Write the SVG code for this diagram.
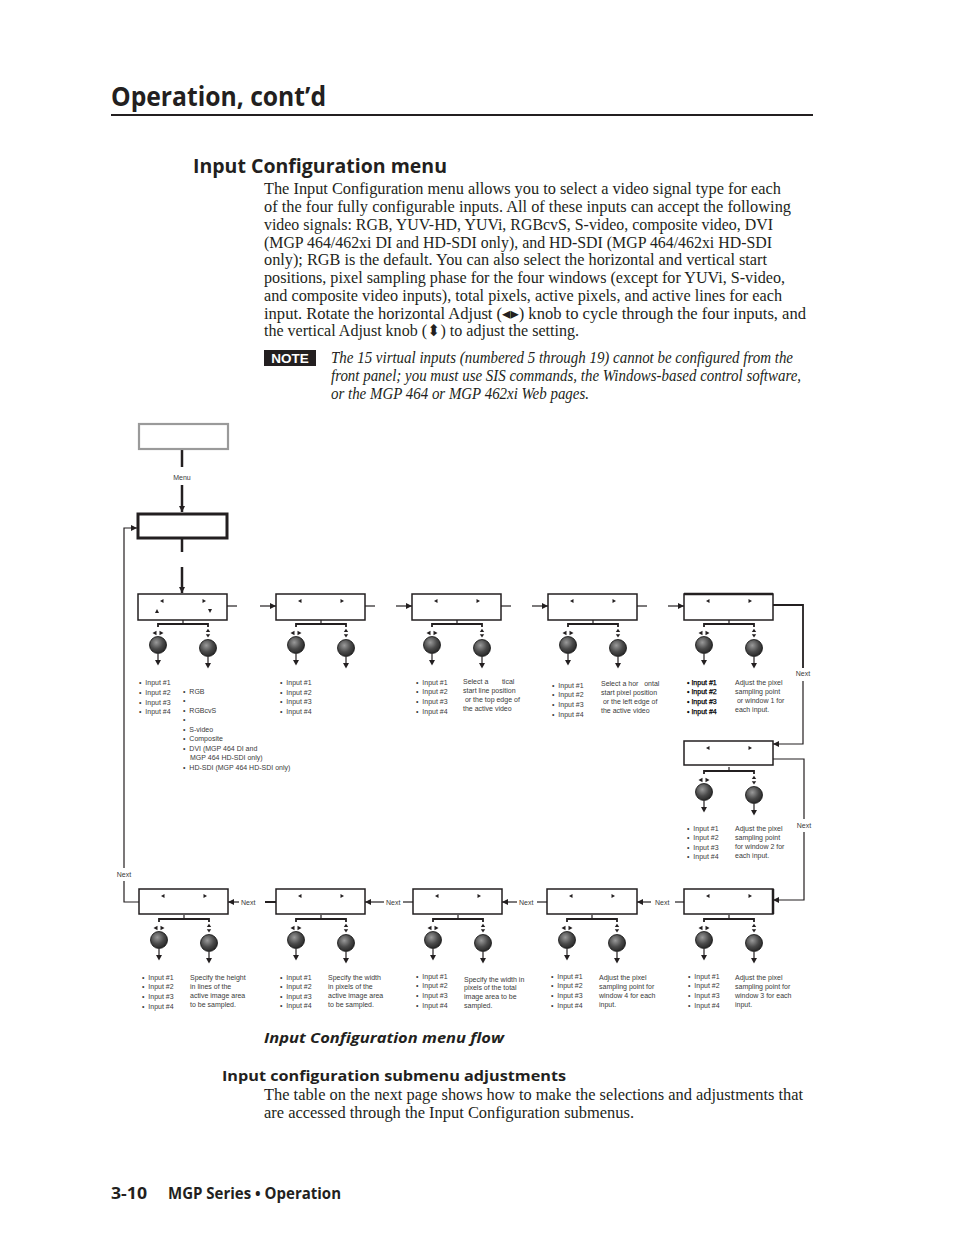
<svg xmlns="http://www.w3.org/2000/svg" xmlns:xlink="http://www.w3.org/1999/xlink" width="954" height="1235" viewBox="0 0 954 1235">
<style>
.hd{font-family:"Open Sans","Liberation Sans",sans-serif;font-weight:bold;fill:#231f20}
.body{font-family:"Liberation Serif","DejaVu Serif",serif;font-size:16px;fill:#231f20}
.note{font-family:"Liberation Serif","DejaVu Serif",serif;font-size:16px;font-style:italic;fill:#231f20}
.t7{font-family:"Liberation Sans",Arial,sans-serif;font-size:7px;fill:#3a3a3a;white-space:pre}
.t7b{font-family:"Liberation Sans",Arial,sans-serif;font-size:7px;fill:#000;stroke:#000;stroke-width:0.25}
.box{fill:#fff;stroke:#231f20;stroke-width:1.5}
.ln{fill:none;stroke:#231f20;stroke-width:1.2}
.tk{fill:none;stroke:#231f20;stroke-width:2.5}
.tri{fill:#231f20;stroke:none}
.knob{fill:url(#kg);stroke:#111;stroke-width:0.8}
</style>
<defs>
<radialGradient id="kg" cx="0.4" cy="0.35" r="0.7">
<stop offset="0" stop-color="#9a9a9a"/>
<stop offset="0.55" stop-color="#4a4a4a"/>
<stop offset="1" stop-color="#222"/>
</radialGradient>
<marker id="ah" viewBox="0 0 10 10" refX="10" refY="5" markerWidth="7" markerHeight="6" markerUnits="userSpaceOnUse" orient="auto">
<path d="M0,0 L10,5 L0,10 z" fill="#231f20"/>
</marker>
<g id="lr">
<polygon class="tri" points="22,7 25.5,5 25.5,9"/>
<polygon class="tri" points="68,7 64.5,5 64.5,9"/>
</g>
<g id="kit">
<line class="ln" x1="45" y1="26" x2="45" y2="30"/>
<polyline class="ln" style="stroke-width:1.8" points="20,33 20,30 70,30 70,33"/>
<polygon class="tri" points="14.5,39 18.5,36.8 18.5,41.2"/>
<polygon class="tri" points="25.5,39 21.5,36.8 21.5,41.2"/>
<polygon class="tri" points="70,34.8 67.8,38 72.2,38"/>
<polygon class="tri" points="70,43.5 67.8,40.3 72.2,40.3"/>
<circle class="knob" cx="20" cy="51" r="8.5"/>
<circle class="knob" cx="70" cy="54" r="8.5"/>
<line class="ln" x1="20" y1="60" x2="20" y2="67"/>
<polygon class="tri" points="17,66 23,66 20,71.5"/>
<line class="ln" x1="70" y1="63" x2="70" y2="70"/>
<polygon class="tri" points="67,69 73,69 70,74.5"/>
</g>
</defs>
<rect width="954" height="1235" fill="#fff"/>

<g id="page-text">
<text class="hd" x="111" y="106" font-size="26" textLength="215" lengthAdjust="spacingAndGlyphs">Operation, cont’d</text>
<line x1="111" y1="115" x2="813" y2="115" stroke="#231f20" stroke-width="2"/>
<text class="hd" x="193" y="173" font-size="19" textLength="254" lengthAdjust="spacingAndGlyphs">Input Configuration menu</text>
<text class="body" x="264" y="194" textLength="517" lengthAdjust="spacingAndGlyphs">The Input Configuration menu allows you to select a video signal type for each</text>
<text class="body" x="264" y="212" textLength="527" lengthAdjust="spacingAndGlyphs">of the four fully configurable inputs.  All of these inputs can accept the following</text>
<text class="body" x="264" y="230" textLength="509" lengthAdjust="spacingAndGlyphs">video signals: RGB, YUV-HD, YUVi, RGBcvS, S-video, composite video, DVI</text>
<text class="body" x="264" y="247.5" textLength="508" lengthAdjust="spacingAndGlyphs">(MGP 464/462xi DI and HD-SDI only), and HD-SDI (MGP 464/462xi HD-SDI</text>
<text class="body" x="264" y="265" textLength="503" lengthAdjust="spacingAndGlyphs">only); RGB is the default.  You can also select the horizontal and vertical start</text>
<text class="body" x="264" y="283" textLength="521" lengthAdjust="spacingAndGlyphs">positions, pixel sampling phase for the four windows (except for YUVi, S-video,</text>
<text class="body" x="264" y="301" textLength="518" lengthAdjust="spacingAndGlyphs">and composite video inputs), total pixels, active pixels, and active lines for each</text>
<text class="body" x="264" y="318.5" textLength="542" lengthAdjust="spacingAndGlyphs">input.  Rotate the horizontal Adjust (◂▸) knob to cycle through the four inputs, and</text>
<text class="body" x="264" y="336" textLength="315" lengthAdjust="spacingAndGlyphs">the vertical Adjust knob (⬍) to adjust the setting.</text>
<rect x="264" y="350" width="52" height="16" fill="#231f20"/>
<text x="290" y="363" text-anchor="middle" font-family="Liberation Sans,Arial,sans-serif" font-weight="bold" font-size="13.5" fill="#fff">NOTE</text>
<text class="note" x="331" y="363" textLength="462" lengthAdjust="spacingAndGlyphs">The 15 virtual inputs (numbered 5 through 19) cannot be configured from the</text>
<text class="note" x="331" y="381" textLength="470" lengthAdjust="spacingAndGlyphs">front panel; you must use SIS commands, the Windows-based control software,</text>
<text class="note" x="331" y="399" textLength="258" lengthAdjust="spacingAndGlyphs">or the MGP 464 or MGP 462xi Web pages.</text>
<text class="hd" x="264" y="1043" font-size="14" font-style="italic" textLength="240" lengthAdjust="spacingAndGlyphs">Input Configuration menu flow</text>
<text class="hd" x="222" y="1081" font-size="15" textLength="344" lengthAdjust="spacingAndGlyphs">Input configuration submenu adjustments</text>
<text class="body" x="264" y="1100" textLength="539" lengthAdjust="spacingAndGlyphs">The table on the next page shows how to make the selections and adjustments that</text>
<text class="body" x="264" y="1118" textLength="370" lengthAdjust="spacingAndGlyphs">are accessed through the Input Configuration submenus.</text>
<text class="hd" x="111" y="1199" font-size="16" textLength="36" lengthAdjust="spacingAndGlyphs">3-10</text>
<text class="hd" x="168" y="1199" font-size="16" font-weight="600" textLength="173" lengthAdjust="spacingAndGlyphs">MGP Series • Operation</text>
</g>

<g id="connectors">
<line class="tk" x1="182" y1="450" x2="182" y2="467"/>
<line class="tk" x1="182" y1="485" x2="182" y2="512" marker-end="url(#ah)"/>
<text class="t7" x="182" y="480" text-anchor="middle">Menu</text>
<line class="tk" x1="182" y1="538" x2="182" y2="552"/>
<line class="tk" x1="182" y1="567" x2="182" y2="593" marker-end="url(#ah)"/>
<line class="ln" x1="227" y1="606" x2="237" y2="606"/>
<line class="ln" x1="260" y1="606" x2="276" y2="606" marker-end="url(#ah)"/>
<line class="ln" x1="365" y1="606" x2="375" y2="606"/>
<line class="ln" x1="396" y1="606" x2="412" y2="606" marker-end="url(#ah)"/>
<line class="ln" x1="501" y1="606" x2="511" y2="606"/>
<line class="ln" x1="532" y1="606" x2="548" y2="606" marker-end="url(#ah)"/>
<line class="ln" x1="637" y1="606" x2="647" y2="606"/>
<line class="ln" x1="668" y1="606" x2="684" y2="606" marker-end="url(#ah)"/>
<polyline class="ln" style="stroke-width:1.8" points="773,605 803,605 803,668"/>
<text class="t7" x="803" y="676" text-anchor="middle">Next</text>
<polyline class="ln" points="803,681 803,744 773,744" marker-end="url(#ah)"/>
<polyline class="ln" points="773,759 804,759 804,819"/>
<text class="t7" x="804" y="828" text-anchor="middle">Next</text>
<polyline class="ln" points="804,832 804,900 773,900" marker-end="url(#ah)"/>
<line class="ln" x1="684" y1="902" x2="675" y2="902"/>
<text class="t7" x="655" y="904.5">Next</text>
<line class="ln" x1="651" y1="902" x2="637" y2="902" marker-end="url(#ah)"/>
<line class="ln" x1="547" y1="902" x2="537" y2="902"/>
<text class="t7" x="519" y="904.5">Next</text>
<line class="ln" x1="517" y1="902" x2="502" y2="902" marker-end="url(#ah)"/>
<line class="ln" x1="413" y1="902" x2="403" y2="902"/>
<text class="t7" x="386" y="904.5">Next</text>
<line class="ln" x1="384" y1="902" x2="365" y2="902" marker-end="url(#ah)"/>
<line class="tk" style="stroke-width:2" x1="276" y1="902" x2="265" y2="902"/>
<text class="t7" x="241" y="904.5">Next</text>
<line class="ln" x1="239" y1="902" x2="228" y2="902" marker-end="url(#ah)"/>
<polyline class="ln" points="139,902 124,902 124,881"/>
<text class="t7" x="124" y="877" text-anchor="middle">Next</text>
<polyline class="ln" points="124,868 124,528 137,528" marker-end="url(#ah)"/>
</g>

<g id="node-top">
<rect x="139" y="424" width="89" height="25" fill="#fff" stroke="#9a9a9a" stroke-width="2.2"/>
</g>
<g id="node-menu">
<rect x="138" y="514" width="89" height="24" fill="#fff" stroke="#231f20" stroke-width="3"/>
</g>

<g id="node-input-type" transform="translate(138,594)">
<rect class="box" width="89" height="26"/>
<use xlink:href="#lr"/>
<polygon class="tri" points="19,15 17,19 21,19"/>
<polygon class="tri" points="72,19 70,15 74,15"/>
<use xlink:href="#kit"/>
</g>
<g id="node-input-type-text">
<text class="t7" x="139" y="685">•  Input #1</text>
<text class="t7" x="139" y="694.5">•  Input #2</text>
<text class="t7" x="139" y="704.5">•  Input #3</text>
<text class="t7" x="139" y="714">•  Input #4</text>
<text class="t7" x="183" y="693.5">•  RGB</text>
<text class="t7" x="183" y="703">•</text>
<text class="t7" x="183" y="712.5">•  RGBcvS</text>
<text class="t7" x="183" y="722">•</text>
<text class="t7" x="183" y="731.5">•  S-video</text>
<text class="t7" x="183" y="741">•  Composite</text>
<text class="t7" x="183" y="750.5">•  DVI (MGP 464 DI and</text>
<text class="t7" x="190" y="760">MGP 464 HD-SDI only)</text>
<text class="t7" x="183" y="770">•  HD-SDI (MGP 464 HD-SDI only)</text>
</g>

<g id="node-2" transform="translate(276,594)">
<rect class="box" width="89" height="26"/>
<use xlink:href="#lr"/>
<use xlink:href="#kit"/>
<text class="t7" x="4" y="91">•  Input #1</text>
<text class="t7" x="4" y="100.5">•  Input #2</text>
<text class="t7" x="4" y="110">•  Input #3</text>
<text class="t7" x="4" y="120">•  Input #4</text>
</g>

<g id="node-vstart" transform="translate(412,594)">
<rect class="box" width="89" height="26"/>
<use xlink:href="#lr"/>
<use xlink:href="#kit"/>
<text class="t7" x="4" y="91">•  Input #1</text>
<text class="t7" x="4" y="100">•  Input #2</text>
<text class="t7" x="4" y="110">•  Input #3</text>
<text class="t7" x="4" y="120">•  Input #4</text>
<text class="t7" x="51" y="90">Select a       tical</text>
<text class="t7" x="51" y="99">start line position</text>
<text class="t7" x="51" y="108"> or the top edge of</text>
<text class="t7" x="51" y="117">the active video</text>
</g>

<g id="node-hstart" transform="translate(548,594)">
<rect class="box" width="89" height="26"/>
<use xlink:href="#lr"/>
<use xlink:href="#kit"/>
<text class="t7" x="4" y="94">•  Input #1</text>
<text class="t7" x="4" y="103">•  Input #2</text>
<text class="t7" x="4" y="113">•  Input #3</text>
<text class="t7" x="4" y="122.5">•  Input #4</text>
<text class="t7" x="53" y="92">Select a hor   ontal</text>
<text class="t7" x="53" y="101">start pixel position</text>
<text class="t7" x="53" y="110"> or the left edge of</text>
<text class="t7" x="53" y="119">the active video</text>
</g>

<g id="node-window1" transform="translate(684,594)">
<rect class="box" width="89" height="26"/>
<line x1="0" y1="0" x2="89" y2="0" stroke="#231f20" stroke-width="2.5"/>
<use xlink:href="#lr"/>
<use xlink:href="#kit"/>
<text class="t7b" x="3" y="91">•  Input #1</text>
<text class="t7b" x="3" y="100">•  Input #2</text>
<text class="t7b" x="3" y="110">•  Input #3</text>
<text class="t7b" x="3" y="120">•  Input #4</text>
<text class="t7" x="51" y="91">Adjust the pixel</text>
<text class="t7" x="51" y="100">sampling point</text>
<text class="t7" x="51" y="109"> or window 1 for</text>
<text class="t7" x="51" y="118">each input.</text>
</g>

<g id="node-window2" transform="translate(684,741)">
<rect class="box" width="89" height="24"/>
<use xlink:href="#lr"/>
<use xlink:href="#kit"/>
<text class="t7" x="3" y="90">•  Input #1</text>
<text class="t7" x="3" y="99">•  Input #2</text>
<text class="t7" x="3" y="109">•  Input #3</text>
<text class="t7" x="3" y="118">•  Input #4</text>
<text class="t7" x="51" y="90">Adjust the pixel</text>
<text class="t7" x="51" y="99">sampling point</text>
<text class="t7" x="51" y="108">for window 2 for</text>
<text class="t7" x="51" y="117">each input.</text>
</g>

<g id="node-window3" transform="translate(684,889)">
<rect class="box" width="89" height="25"/>
<line x1="89" y1="0" x2="89" y2="25" stroke="#231f20" stroke-width="2.5"/>
<use xlink:href="#lr"/>
<use xlink:href="#kit"/>
<text class="t7" x="4" y="90">•  Input #1</text>
<text class="t7" x="4" y="99">•  Input #2</text>
<text class="t7" x="4" y="109">•  Input #3</text>
<text class="t7" x="4" y="118.5">•  Input #4</text>
<text class="t7" x="51" y="91">Adjust the pixel</text>
<text class="t7" x="51" y="100">sampling point for</text>
<text class="t7" x="51" y="109">window 3 for each</text>
<text class="t7" x="51" y="118">input.</text>
</g>

<g id="node-window4" transform="translate(547,889)">
<rect class="box" width="90" height="25"/>
<use xlink:href="#lr"/>
<use xlink:href="#kit"/>
<text class="t7" x="4" y="90">•  Input #1</text>
<text class="t7" x="4" y="99">•  Input #2</text>
<text class="t7" x="4" y="109">•  Input #3</text>
<text class="t7" x="4" y="118.5">•  Input #4</text>
<text class="t7" x="52" y="91">Adjust the pixel</text>
<text class="t7" x="52" y="100">sampling point for</text>
<text class="t7" x="52" y="109">window 4 for each</text>
<text class="t7" x="52" y="118">input.</text>
</g>

<g id="node-total-pixels" transform="translate(413,889)">
<rect class="box" width="89" height="25"/>
<use xlink:href="#lr"/>
<use xlink:href="#kit"/>
<text class="t7" x="3" y="90">•  Input #1</text>
<text class="t7" x="3" y="99">•  Input #2</text>
<text class="t7" x="3" y="109">•  Input #3</text>
<text class="t7" x="3" y="118.5">•  Input #4</text>
<text class="t7" x="51" y="93">Specify the width in</text>
<text class="t7" x="51" y="101">pixels of the total</text>
<text class="t7" x="51" y="110">image area to be</text>
<text class="t7" x="51" y="119">sampled.</text>
</g>

<g id="node-active-pixels" transform="translate(276,889)">
<rect class="box" width="89" height="25"/>
<use xlink:href="#lr"/>
<use xlink:href="#kit"/>
<text class="t7" x="4" y="91">•  Input #1</text>
<text class="t7" x="4" y="100">•  Input #2</text>
<text class="t7" x="4" y="110">•  Input #3</text>
<text class="t7" x="4" y="119">•  Input #4</text>
<text class="t7" x="52" y="91">Specify the width</text>
<text class="t7" x="52" y="100">in pixels of the</text>
<text class="t7" x="52" y="109">active image area</text>
<text class="t7" x="52" y="118">to be sampled.</text>
</g>

<g id="node-active-lines" transform="translate(139,889)">
<rect class="box" width="89" height="25"/>
<use xlink:href="#lr"/>
<use xlink:href="#kit"/>
<text class="t7" x="3" y="91">•  Input #1</text>
<text class="t7" x="3" y="100">•  Input #2</text>
<text class="t7" x="3" y="110">•  Input #3</text>
<text class="t7" x="3" y="120">•  Input #4</text>
<text class="t7" x="51" y="91">Specify the height</text>
<text class="t7" x="51" y="100">in lines of the</text>
<text class="t7" x="51" y="109">active image area</text>
<text class="t7" x="51" y="118">to be sampled.</text>
</g>
</svg>
